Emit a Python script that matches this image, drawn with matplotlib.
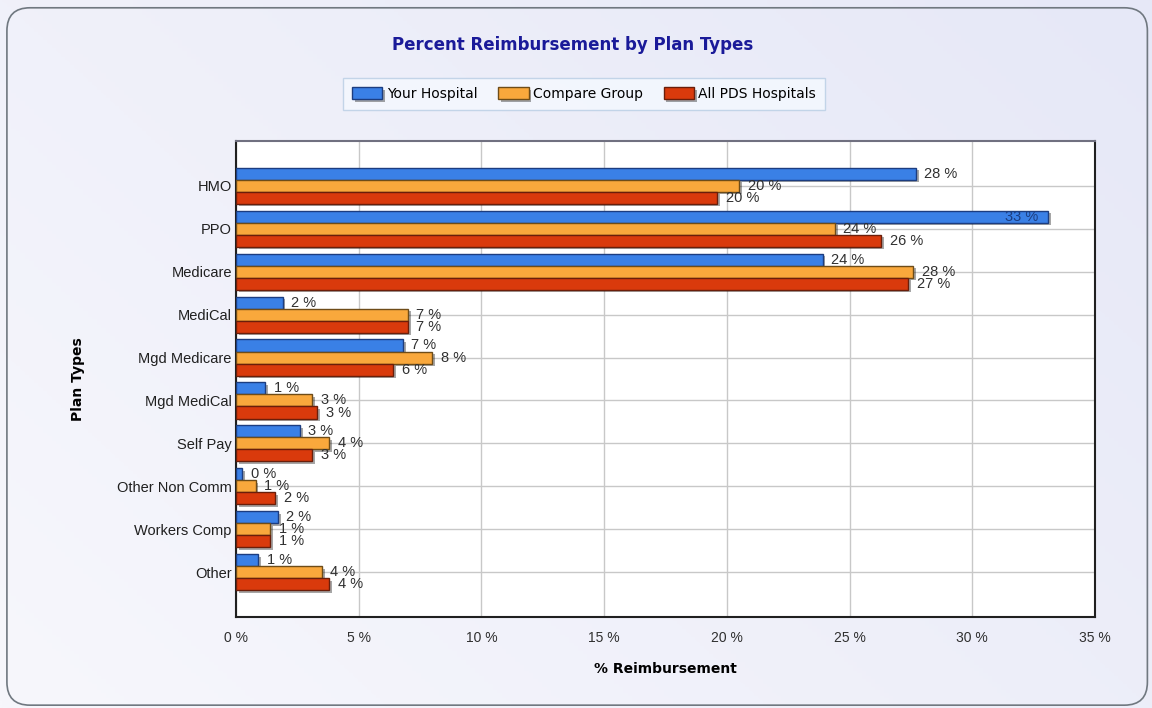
import numpy as np
import matplotlib
matplotlib.use("Agg")
import matplotlib.pyplot as plt
import matplotlib.patheffects as pe
from matplotlib.patches import FancyBboxPatch

# data
categories = ["HMO", "PPO", "Medicare", "MediCal", "Mgd Medicare", "Mgd MediCal",
              "Self Pay", "Other Non Comm", "Workers Comp", "Other"]
your_hospital = [27.7, 33.1, 23.9, 1.9, 6.8, 1.2, 2.6, 0.25, 1.7, 0.9]
compare_group = [20.5, 24.4, 27.6, 7.0, 8.0, 3.1, 3.8, 0.8, 1.4, 3.5]
all_pds = [19.6, 26.3, 27.4, 7.0, 6.4, 3.3, 3.1, 1.6, 1.4, 3.8]
series_names = ["Your Hospital", "Compare Group", "All PDS Hospitals"]
x_ticks = [0, 5, 10, 15, 20, 25, 30, 35]

colors = ["#3a80e6", "#f9a83c", "#d93a0c"]
edges = ["#1c3d80", "#6e4c18", "#6a1e0a"]

fig = plt.figure(figsize=(11.52, 7.08), dpi=100)

# background gradient + rounded frame
bg = fig.add_axes([0, 0, 1, 1], zorder=-10)
grad = np.linspace(0, 1, 256)[None, :] * 0.6 + np.linspace(0, 1, 256)[:, None] * 0.4
bg.imshow(grad, extent=[0, 1, 0, 1], aspect="auto", origin="lower",
          cmap=matplotlib.colors.LinearSegmentedColormap.from_list("bg", ["#f7f7fc", "#e6e8f7"]))
bg.add_patch(FancyBboxPatch((0.006, 0.004), 0.99, 0.985, boxstyle="round,pad=0,rounding_size=0.02",
                            transform=bg.transAxes, fc="none", ec="#707880", lw=1.2,
                            mutation_aspect=1152 / 708))
bg.set_xlim(0, 1)
bg.set_ylim(0, 1)
bg.axis("off")

ax = fig.add_axes([236 / 1152, 1 - 617 / 708, (1095 - 236) / 1152, (617 - 141) / 708])
ax.set_facecolor("white")

y = np.arange(len(categories))
h = 0.28
data = [your_hospital, compare_group, all_pds]
shadow = [pe.SimplePatchShadow(offset=(2, -2), shadow_rgbFace="#000000", alpha=0.35), pe.Normal()]
for i, vals in enumerate(data):
    ys = y + (i - 1) * h
    bars = ax.barh(ys, vals, height=h, color=colors[i], edgecolor=edges[i], linewidth=1.0,
                   label=series_names[i], zorder=3)
    for b in bars:
        b.set_path_effects(shadow)
    for v, yy in zip(vals, ys):
        txt = "%d %%" % round(v)
        if v > 31:
            ax.text(v - 0.4, yy, txt, ha="right", va="center", fontsize=10.5,
                    color="#1c3d80", family="Liberation Sans", zorder=5)
        else:
            ax.text(v + 0.35, yy, txt, ha="left", va="center", fontsize=10.5,
                    color="#303030", family="Liberation Sans", zorder=5)

ax.set_xlim(0, 35)
ax.set_ylim(len(categories) - 1 + 1.04, -1.04)
ax.set_yticks(y)
ax.set_yticklabels(categories, fontsize=10.5, family="Liberation Sans", color="#202020")
ax.set_xticks(x_ticks)
ax.set_xticklabels(["%d %%" % t for t in x_ticks], fontsize=10, family="Liberation Sans", color="#303030")
ax.tick_params(length=0, pad=3)
ax.tick_params(axis="x", pad=10)
ax.grid(True, color="#c8c8c8", lw=1, zorder=0)
ax.set_axisbelow(True)
for s in ["left", "bottom", "right"]:
    ax.spines[s].set_color("#202020")
    ax.spines[s].set_linewidth(1.5)
ax.spines["top"].set_color("#707080")
ax.spines["top"].set_linewidth(1.5)
ax.set_xlabel("% Reimbursement", fontsize=10, fontweight="bold", labelpad=12)
ax.set_ylabel("Plan Types", fontsize=10, fontweight="bold", labelpad=0)
ax.yaxis.set_label_coords(-0.176, 0.5)

fig.text(0.497, 1 - 45 / 708, "Percent Reimbursement by Plan Types", ha="center", va="center",
         fontsize=12, fontweight="bold", color="#1a1a99")

leg = fig.legend(loc="center", bbox_to_anchor=(584 / 1152, 1 - 94 / 708), ncol=3, fontsize=10,
                 frameon=True, fancybox=False, handlelength=2.2, handleheight=1.0,
                 handletextpad=0.3, columnspacing=1.5, borderpad=0.65, borderaxespad=0)
leg.get_frame().set_facecolor("#f5f9ff")
leg.get_frame().set_edgecolor("#b8cde4")
leg.get_frame().set_linewidth(1)

fig.savefig("out.png", dpi=100)
